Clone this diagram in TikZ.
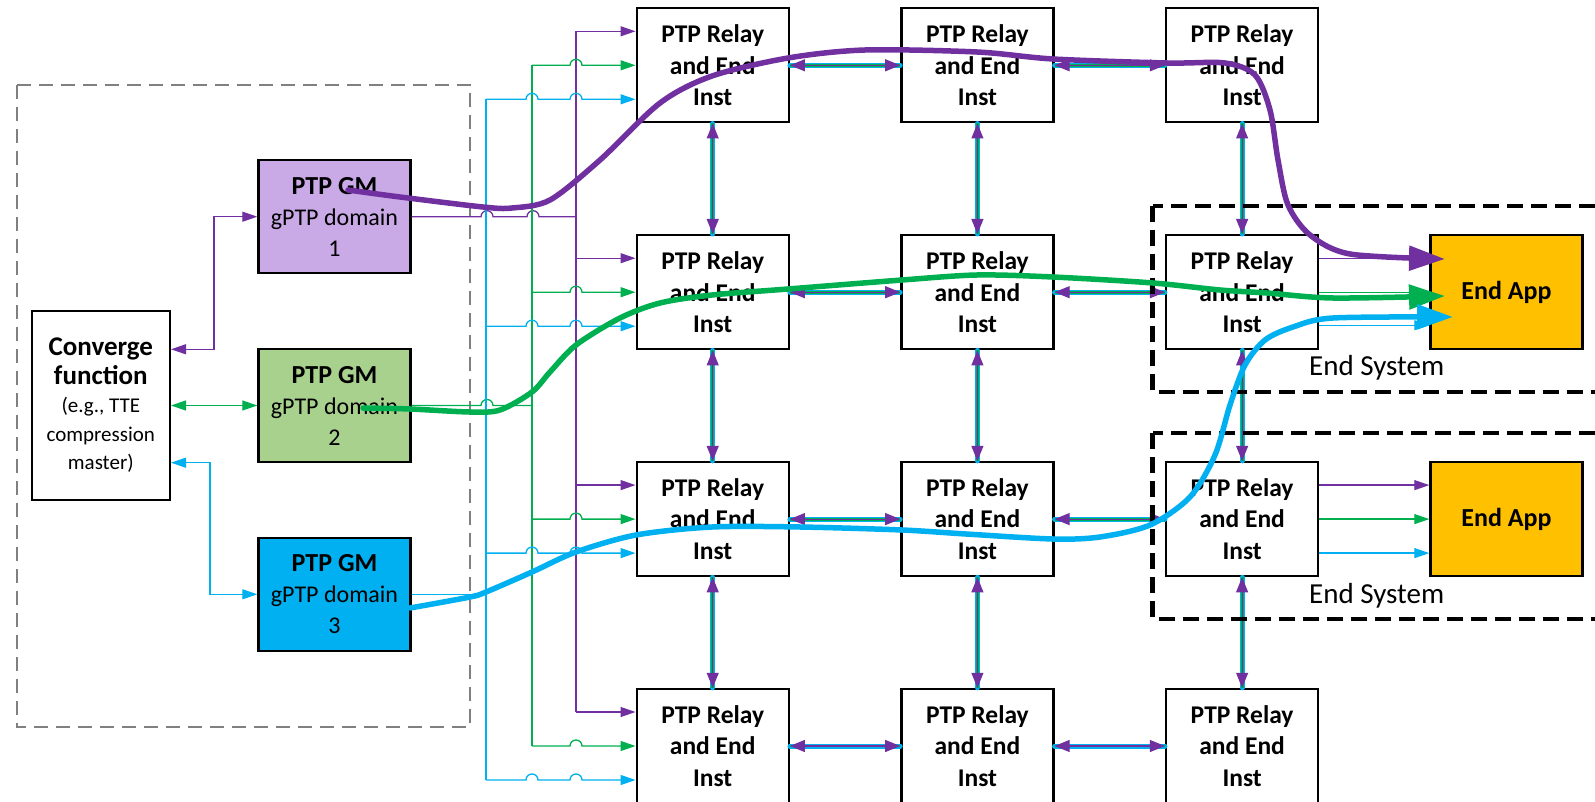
\documentclass[tikz,border=0pt]{standalone}
\usepackage{fontspec}
\setmainfont{Carlito}
\usetikzlibrary{arrows.meta,calc,positioning}

\definecolor{ptppurple}{HTML}{7030A0}
\definecolor{ptpgreen}{HTML}{00B050}
\definecolor{ptpblue}{HTML}{00B0F0}
\definecolor{gmlilac}{HTML}{C9A9E6}
\definecolor{gmlime}{HTML}{A9D18E}
\definecolor{appgold}{HTML}{FFC000}

\tikzset{
  box/.style={draw, line width=2.4pt, minimum width=152pt, inner sep=0pt, align=center},
  relay/.style={box, minimum height=114pt, font=\fontsize{25.5}{31.5}\selectfont\bfseries},
  gm/.style={box, minimum height=113pt, font=\fontsize{24}{31}\selectfont},
  app/.style={box, fill=appgold, minimum height=114pt, font=\fontsize{26}{31}\selectfont\bfseries},
  thin/.style={line width=1.3pt},
  pline/.style={thin, ptppurple},
  gline/.style={thin, ptpgreen},
  bline/.style={thin, ptpblue},
  withtip/.style={-{Triangle[length=15pt,width=10pt]}},
  bothtips/.style={{Triangle[length=15pt,width=10pt]}-{Triangle[length=15pt,width=10pt]}},
  lnkb/.style={ptpblue, line width=5pt, line cap=round},
  lnkg/.style={ptpgreen, line width=2.8pt},
  lnkp/.style={ptppurple, line width=1.1pt, {Triangle[length=15pt,width=12pt]}-{Triangle[length=15pt,width=12pt]}},
  thick path/.style={line width=5.5pt, line cap=round, -{Triangle[length=36pt,width=24pt]}},
  esys/.style={draw, line width=4.5pt, dash pattern=on 16pt off 8pt},
}

% three domains share one link
\newcommand{\syncpair}[2]{
  \draw[lnkb] (#1) -- (#2);
  \draw[lnkg] (#1) -- (#2);
  \draw[lnkp] (#1) -- (#2);
}

\begin{document}
\begin{tikzpicture}[x=1pt,y=-1pt]
    \useasboundingbox (0,0) rectangle (1595,802);
    \clip (0,0) rectangle (1595,802);

    % grandmaster group
    \draw[gray, line width=2pt, dash pattern=on 14pt off 8pt] (16.7,85) rectangle (470.3,727.3);

    \node[box, minimum width=138pt, minimum height=189pt, font=\fontsize{21}{28.5}\selectfont](conv) at (100.8,405.3)
        {{\fontsize{27}{30}\selectfont\bfseries Converge}\\{\fontsize{27}{30}\selectfont\bfseries function}\\(e.g., TTE\\compression\\master)};

    \node[gm, fill=gmlilac](gm1) at (334.5,216.7) {{\fontsize{26}{31}\selectfont\bfseries PTP GM}\\gPTP domain\\1};
    \node[gm, fill=gmlime](gm2) at (334.5,405.5) {{\fontsize{26}{31}\selectfont\bfseries PTP GM}\\gPTP domain\\2};
    \node[gm, fill=ptpblue](gm3) at (334.5,594.3) {{\fontsize{26}{31}\selectfont\bfseries PTP GM}\\gPTP domain\\3};

    % relay grid
    \node[relay](r11) at (712.7,65.3) {PTP Relay\\and End\\Inst};
    \node[relay](r12) at (977.4,65.3) {PTP Relay\\and End\\Inst};
    \node[relay](r13) at (1242.1,65.3) {PTP Relay\\and End\\Inst};
    \node[relay](r21) at (712.7,292.2) {PTP Relay\\and End\\Inst};
    \node[relay](r22) at (977.4,292.2) {PTP Relay\\and End\\Inst};
    \node[relay](r23) at (1242.1,292.2) {PTP Relay\\and End\\Inst};
    \node[relay](r31) at (712.7,519.1) {PTP Relay\\and End\\Inst};
    \node[relay](r32) at (977.4,519.1) {PTP Relay\\and End\\Inst};
    \node[relay](r33) at (1242.1,519.1) {PTP Relay\\and End\\Inst};
    \node[relay](r41) at (712.7,746) {PTP Relay\\and End\\Inst};
    \node[relay](r42) at (977.4,746) {PTP Relay\\and End\\Inst};
    \node[relay](r43) at (1242.1,746) {PTP Relay\\and End\\Inst};

    \node[app](app1) at (1506.5,292.2) {End App};
    \node[app](app2) at (1506.5,519.1) {End App};

    % converge function to the GMs
    \draw[pline, bothtips] ($(conv.east)+(0,-56)$) -- ++(43,0) |- (gm1.west);
    \draw[gline, bothtips] (conv.east |- gm2.west) -- (gm2.west);
    \draw[bline, bothtips] ($(conv.east)+(0,57.4)$) -- ++(39,0) |- (gm3.west);

    % distribution buses
    \coordinate (bbus) at (486,0);
    \coordinate (gbus) at (532,0);
    \coordinate (pbus) at (576,0);

    \draw[pline] (gm1.east) -- ++(69.3,0) arc (180:360:6) -- ++(34,0) arc (180:360:6) -- (pbus |- gm1.east);
    \draw[gline] (gm2.east) -- ++(69.3,0) arc (180:360:6) -- (gbus |- gm2.east);
    \draw[bline] (gm3.east) -- (bbus |- gm3.east);

    \draw[pline] ($(pbus |- r11.west)+(0,-34)$) -- ($(pbus |- r41.west)+(0,-34)$);
    \draw[gline] (gbus |- r11.west) -- (gbus |- r41.west);
    \draw[bline] ($(bbus |- r11.west)+(0,34)$) -- ($(bbus |- r41.west)+(0,34)$);

    \foreach \r in {1,...,4} {
        \draw[pline, withtip] ($(pbus |- r\r1.west)+(0,-34)$) -- ($(r\r1.west)+(0,-34)$);
        \draw[gline, withtip] (gbus |- r\r1.west) -- ++(38,0) arc (180:360:6) -- (r\r1.west);
        \draw[bline, withtip] ($(bbus |- r\r1.west)+(0,34)$) -- ++(40,0) arc (180:360:6) -- ++(32,0) arc (180:360:6) -- ($(r\r1.west)+(0,34)$);
    }

    % links between relays
    \syncpair{r11.east}{r12.west}
    \syncpair{r12.east}{r13.west}
    \syncpair{r21.east}{r22.west}
    \syncpair{r22.east}{r23.west}
    \syncpair{r31.east}{r32.west}
    \syncpair{r32.east}{r33.west}
    \syncpair{r41.east}{r42.west}
    \syncpair{r42.east}{r43.west}
    \syncpair{r11.south}{r21.north}
    \syncpair{r21.south}{r31.north}
    \syncpair{r31.south}{r41.north}
    \syncpair{r12.south}{r22.north}
    \syncpair{r22.south}{r32.north}
    \syncpair{r32.south}{r42.north}
    \syncpair{r13.south}{r23.north}
    \syncpair{r23.south}{r33.north}
    \syncpair{r33.south}{r43.north}

    % relay to end app
    \draw[pline, withtip] ($(r23.east)+(0,-34)$) -- ($(app1.west)+(0,-34)$);
    \draw[gline, withtip] (r23.east) -- (app1.west);
    \draw[bline, withtip] ($(r23.east)+(0,33)$) -- ($(app1.west)+(0,33)$);
    \draw[pline, withtip] ($(r33.east)+(0,-34)$) -- ($(app2.west)+(0,-34)$);
    \draw[gline, withtip] (r33.east) -- (app2.west);
    \draw[bline, withtip] ($(r33.east)+(0,34)$) -- ($(app2.west)+(0,34)$);

    % end systems
    \draw[esys] (1152.7,206) rectangle (1620,392);
    \draw[esys] (1152.7,433) rectangle (1620,619);
    \node[anchor=base, font=\fontsize{29}{34}\selectfont](es1) at (1376.7,375) {End System};
    \node[anchor=base, font=\fontsize{29}{34}\selectfont](es2) at (1376.7,603) {End System};

    % time paths of the three domains
    \draw[thick path, ptppurple] plot[smooth] coordinates {(348,190) (400,197) (483,207) (512,208) (550,200) (600,160) (660,103) (712,76) (788,58) (865,50) (977,52) (1053,59) (1167,63) (1225,63) (1255,75) (1270,110) (1278,160) (1288,205) (1310,235) (1350,254) (1445,259)};
    \draw[thick path, ptpgreen] plot[smooth] coordinates {(363,408) (410,409) (470,412) (500,410) (532,392) (550,372) (576,345) (620,318) (660,303) (712,295) (788,289) (902,280) (977,275) (1053,277) (1153,283) (1220,290) (1267,293) (1333,298) (1445,296)};
    \draw[thick path, ptpblue] plot[smooth] coordinates {(410,608) (470,597) (486,592) (532,572) (576,552) (636,535) (712,527) (800,527) (902,530) (966,534) (1053,539) (1100,537) (1150,525) (1190,497) (1215,455) (1230,405) (1245,365) (1265,340) (1293,327) (1333,318) (1453,317)};

\end{tikzpicture}
\end{document}
